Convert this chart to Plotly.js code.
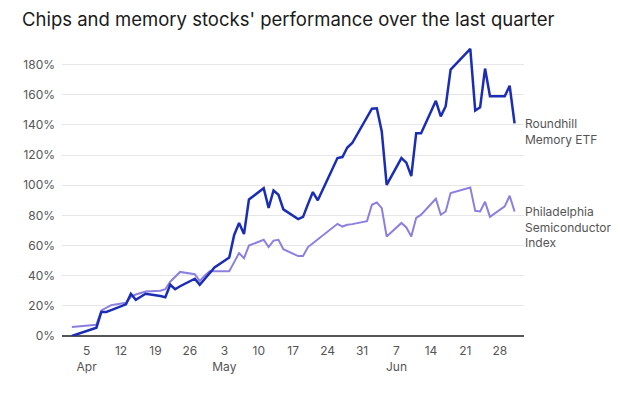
<!DOCTYPE html>
<html>
<head>
<meta charset="utf-8">
<script src="https://cdn.plot.ly/plotly-3.0.1.min.js"></script>
<style>
  html, body { margin: 0; padding: 0; background: #fff; }
  #chart { width: 640px; height: 395px; }
</style>
</head>
<body>
<div id="chart"></div>
<script>
// Trading days of the quarter
const dates = [
  '2026-04-02','2026-04-06','2026-04-07','2026-04-08','2026-04-09','2026-04-10',
  '2026-04-13','2026-04-14','2026-04-15','2026-04-16','2026-04-17',
  '2026-04-20','2026-04-21','2026-04-22','2026-04-23','2026-04-24',
  '2026-04-27','2026-04-28','2026-04-29','2026-04-30','2026-05-01',
  '2026-05-04','2026-05-05','2026-05-06','2026-05-07','2026-05-08',
  '2026-05-11','2026-05-12','2026-05-13','2026-05-14','2026-05-15',
  '2026-05-18','2026-05-19','2026-05-20','2026-05-21','2026-05-22',
  '2026-05-26','2026-05-27','2026-05-28','2026-05-29',
  '2026-06-01','2026-06-02','2026-06-03','2026-06-04','2026-06-05',
  '2026-06-08','2026-06-09','2026-06-10','2026-06-11','2026-06-12',
  '2026-06-15','2026-06-16','2026-06-17','2026-06-18',
  '2026-06-22','2026-06-23','2026-06-24','2026-06-25','2026-06-26',
  '2026-06-29','2026-06-30','2026-07-01'
];

// Cumulative performance, percent
const roundhill = [
  0, 4.3, 5.5, 16, 16, 17.2,
  21, 28, 24, 26, 28,
  26.5, 25.7, 34, 31, 33,
  38, 34, 38, 42, 45.5,
  52, 67, 75, 67.6, 90.5,
  98, 85, 96.5, 93.7, 84,
  77.5, 79, 87.5, 95.5, 90,
  118, 118.7, 125, 128,
  145.5, 150.8, 151, 135.7, 100.3,
  118, 115, 106, 134.5, 134.5,
  156, 145.7, 152.4, 176.7,
  190.5, 149.5, 151.7, 177.4, 159,
  159, 166, 141
];

const sox = [
  6, 7.2, 7.5, 17, 18.5, 20.5,
  22, 26, 27.5, 28.5, 29.5,
  30, 31, 36, 39, 42.5,
  41, 36.5, 40, 43, 43,
  43, 49, 55, 51.6, 60,
  63.8, 59, 63.3, 63.8, 57.6,
  53, 53, 59, 61.5, 64,
  74.4, 72.6, 73.8, 74.2,
  76.2, 87, 88.6, 84.8, 66,
  75, 72, 66, 78.4, 80.5,
  91, 80.4, 82.6, 94.8,
  98.5, 83, 82.6, 89, 79,
  86, 93, 82.6
];

const seriesNames = ['Roundhill<br>Memory ETF', 'Philadelphia<br>Semiconductor<br>Index'];
const seriesColors = ['#1b2db5', '#8b80e0'];

const tickDates = [
  '2026-04-05','2026-04-12','2026-04-19','2026-04-26',
  '2026-05-03','2026-05-10','2026-05-17','2026-05-24','2026-05-31',
  '2026-06-07','2026-06-14','2026-06-21','2026-06-28'
];
const tickLabels = [
  '5<br>Apr','12','19','26',
  '3<br>May','10','17','24','31',
  '7<br>Jun','14','21','28'
];

const FONT = 'Inter, "Noto Sans", sans-serif';

const traces = [
  { x: dates, y: sox, type: 'scatter', mode: 'lines',
    line: { color: seriesColors[1], width: 2 }, hoverinfo: 'skip' },
  { x: dates, y: roundhill, type: 'scatter', mode: 'lines',
    line: { color: seriesColors[0], width: 2.5 }, hoverinfo: 'skip' }
];

// End-of-line labels, anchored at each series' last value
const endLabels = [roundhill, sox].map((vals, i) => ({
  xref: 'paper', x: 1, xanchor: 'left', xshift: -1,
  yref: 'y', y: vals[vals.length - 1], yanchor: 'top', yshift: 9,
  text: seriesNames[i], showarrow: false, align: 'left',
  font: { family: FONT, size: 12, color: '#555' }
}));

const layout = {
  width: 640, height: 395,
  margin: { l: 62, r: 116, t: 42, b: 59 },
  paper_bgcolor: '#fff', plot_bgcolor: '#fff',
  showlegend: false,
  title: {
    text: "Chips and memory stocks' performance over the last quarter",
    xref: 'container', x: 22 / 640, xanchor: 'left',
    yref: 'container', y: 1 - 20 / 395, yanchor: 'middle',
    font: { family: FONT, size: 18.5, color: '#1a1a1a' }
  },
  xaxis: {
    type: 'date',
    range: ['2026-03-31', '2026-07-02 22:00'],
    tickmode: 'array', tickvals: tickDates, ticktext: tickLabels,
    ticks: '', showgrid: false, zeroline: false, showline: false,
    ticklabelstandoff: 6,
    tickfont: { family: FONT, size: 12, color: '#555' }
  },
  yaxis: {
    range: [0, 195],
    tickmode: 'linear', tick0: 0, dtick: 20, ticksuffix: '%',
    showgrid: true, gridcolor: '#e6e6e6', gridwidth: 1,
    zeroline: true, zerolinecolor: '#555', zerolinewidth: 2,
    ticks: '', showline: false,
    ticklabelstandoff: 6,
    tickfont: { family: FONT, size: 12, color: '#555' }
  },
  annotations: endLabels
};

Plotly.newPlot('chart', traces, layout, { staticPlot: true, displayModeBar: false });
</script>
</body>
</html>
